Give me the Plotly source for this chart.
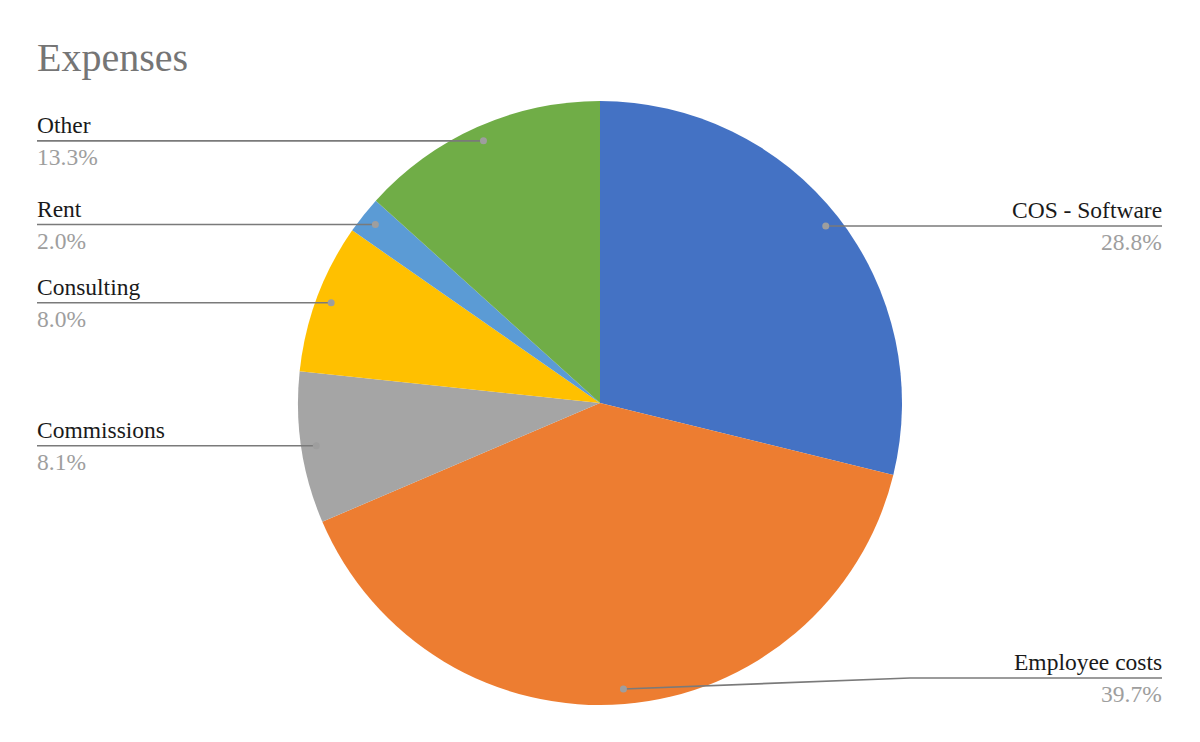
import math
import plotly.graph_objects as go

# ---- data ----
labels = ["COS - Software", "Employee costs", "Commissions", "Consulting", "Rent", "Other"]
values = [28.8, 39.7, 8.1, 8.0, 2.0, 13.3]
colors = ["#4472c4", "#ed7d31", "#a5a5a5", "#ffc000", "#5b9bd5", "#70ad47"]
title_text = "Expenses"

# ---- layout geometry (pixels) ----
W, H = 1200, 742
CX, CY, R = 600, 403, 302
DOT_FRAC = 0.95
LEFT_X, RIGHT_X = 37, 1162
TEXT_PAD = 2
ELBOW_X = 910
MAX_LINE_Y = 678
FONT = "Liberation Serif"

def px(x):
    return x / W

def py(y):
    return 1 - y / H

fig = go.Figure()
fig.add_trace(go.Pie(
    labels=labels, values=values, sort=False, direction="clockwise", rotation=0,
    marker=dict(colors=colors, line=dict(width=0)),
    textinfo="none", hoverinfo="label+percent", showlegend=False,
    domain=dict(x=[px(CX - R), px(CX + R)], y=[py(CY + R), py(CY - R)]),
))

shapes = []
annotations = []
total = sum(values)
cum = 0.0
for lab, v in zip(labels, values):
    mid = (cum + v / 2) / total * 2 * math.pi
    cum += v
    dx = math.sin(mid) * R * DOT_FRAC
    dy = -math.cos(mid) * R * DOT_FRAC
    x0, y0 = CX + dx, CY + dy
    right = dx > 0
    ly = min(y0, MAX_LINE_Y)
    lx = RIGHT_X if right else LEFT_X
    line_col = "#7a7a7a"
    if abs(ly - y0) > 0.5:
        ex = ELBOW_X if right else W - ELBOW_X
        shapes.append(dict(type="line", xref="paper", yref="paper",
                           x0=px(x0), y0=py(y0), x1=px(ex), y1=py(ly),
                           line=dict(color=line_col, width=1.6)))
        shapes.append(dict(type="line", xref="paper", yref="paper",
                           x0=px(ex), y0=py(ly), x1=px(lx), y1=py(ly),
                           line=dict(color=line_col, width=1.6)))
    else:
        shapes.append(dict(type="line", xref="paper", yref="paper",
                           x0=px(x0), y0=py(ly), x1=px(lx), y1=py(ly),
                           line=dict(color=line_col, width=1.6)))
    rr = 3.5
    shapes.append(dict(type="circle", xref="paper", yref="paper",
                       x0=px(x0 - rr), x1=px(x0 + rr), y0=py(y0 + rr), y1=py(y0 - rr),
                       fillcolor="#9e9e9e", line=dict(width=0)))
    xanchor = "right" if right else "left"
    tx = lx + TEXT_PAD if right else lx - TEXT_PAD
    annotations.append(dict(xref="paper", yref="paper", x=px(tx), y=py(ly - 1),
                            text=lab, showarrow=False, xanchor=xanchor, yanchor="bottom",
                            font=dict(family=FONT, size=23.5, color="#1a1a1a")))
    annotations.append(dict(xref="paper", yref="paper", x=px(tx), y=py(ly + 1),
                            text=f"{v:.1f}%", showarrow=False, xanchor=xanchor, yanchor="top",
                            font=dict(family=FONT, size=23.5, color="#9e9e9e")))

annotations.append(dict(xref="paper", yref="paper", x=px(LEFT_X - 2), y=py(57),
                        text=title_text, showarrow=False, xanchor="left", yanchor="middle",
                        font=dict(family=FONT, size=40, color="#757575")))

fig.update_layout(
    width=W, height=H, margin=dict(l=0, r=0, t=0, b=0),
    paper_bgcolor="white", plot_bgcolor="white",
    shapes=shapes, annotations=annotations,
)
fig.write_html("out.html", config={"displayModeBar": False},
               post_script="document.body.style.margin='0';")
